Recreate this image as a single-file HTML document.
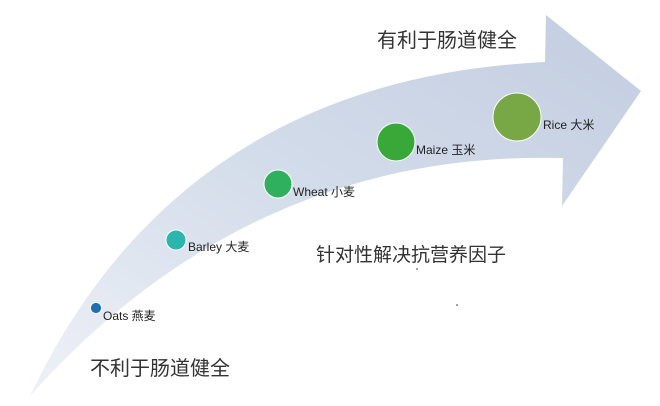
<!DOCTYPE html>
<html><head><meta charset="utf-8"><style>
body{margin:0;background:#fff;width:660px;height:401px;overflow:hidden}
svg text{font-family:"Liberation Sans","Noto Sans CJK SC",sans-serif}
</style></head><body>
<svg width="660" height="401" viewBox="0 0 660 401">
<defs><linearGradient id="g" x1="0" y1="1" x2="1" y2="0">
<stop offset="0" stop-color="#eef1f7"/><stop offset="0.5" stop-color="#d3dcea"/><stop offset="1" stop-color="#c2cde0"/></linearGradient></defs>
<path d="M30,396 Q180,80 545,62 L546,15 L641,91 L562,206 L563,158 Q250,150 30,396 Z" fill="url(#g)"/>
<circle cx="96" cy="308" r="5.5" fill="#1f6fb2" stroke="#fff" stroke-width="0.8"/>
<circle cx="176" cy="240" r="10" fill="#2cb5ac" stroke="#fff" stroke-width="1"/>
<circle cx="278" cy="184" r="14" fill="#2fb05e" stroke="#fff" stroke-width="1"/>
<circle cx="396" cy="142" r="19" fill="#38a838" stroke="#fff" stroke-width="1"/>
<circle cx="517" cy="117" r="24" fill="#77a845" stroke="#fff" stroke-width="1"/>
<g font-size="12" fill="#222">
<text x="103" y="320">Oats 燕麦</text>
<text x="188" y="251">Barley 大麦</text>
<text x="293" y="196">Wheat 小麦</text>
<text x="416" y="154">Maize 玉米</text>
<text x="543" y="129">Rice 大米</text>
</g>
<g font-size="20" fill="#333">
<text x="377" y="47">有利于肠道健全</text>
<text x="90" y="375">不利于肠道健全</text>
<text x="316" y="261" font-size="19">针对性解决抗营养因子</text>
</g>
<circle cx="417" cy="269" r="0.8" fill="#333"/><circle cx="457" cy="305" r="0.8" fill="#333"/>
</svg>
</body></html>
